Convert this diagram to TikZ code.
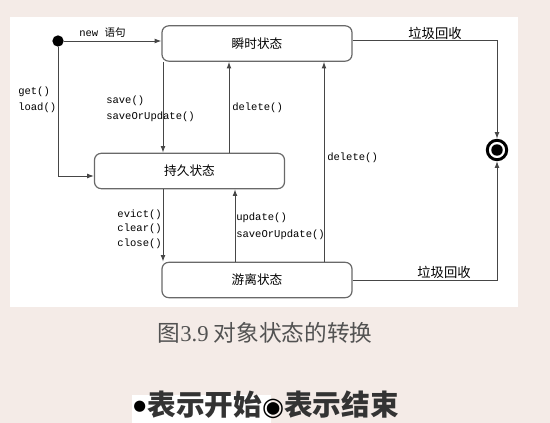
\documentclass[tikz,border=0pt]{standalone}
\usepackage{fontspec}
\usetikzlibrary{arrows.meta}
\setmonofont{Liberation Mono}
\newfontfamily\cjk{Noto Sans CJK SC}
\newfontfamily\serifnum{Liberation Serif}
\newfontfamily\symfont{DejaVu Sans}
\definecolor{bgpink}{RGB}{244,235,231}
\definecolor{linegray}{RGB}{70,70,70}
\definecolor{boxgray}{RGB}{105,105,105}

\begin{document}
\begin{tikzpicture}[x=0.75pt,y=-0.75pt,
  state/.style={draw=boxgray,line width=0.9pt,rounded corners=5pt,fill=white,
    minimum width=142.5pt,minimum height=26.5pt,inner sep=0pt,
    font=\cjk\fontsize{9.5}{11}\selectfont},
  arr/.style={draw=linegray,line width=0.7pt,-{Latex[length=5pt,width=3.6pt]}},
  code/.style={font=\ttfamily\fontsize{7.9}{12}\selectfont,inner sep=0pt},
  gc/.style={font=\cjk\fontsize{10}{12}\selectfont,inner sep=0pt}]
 % background and white panel
 \fill[bgpink] (0,0) rectangle (550,423);
 \fill[white] (10,17) rectangle (518,307);
 %
 \node[state] (transient) at (257,43.5) {瞬时状态};
 \node[state] (persistent) at (189.5,171) {持久状态};
 \node[state] (detached) at (257,280) {游离状态};
 \node[circle,fill=black,inner sep=0pt,minimum size=8.5pt] (start) at (58,41) {};
 \node[circle,draw=black,line width=2.2pt,fill=white,inner sep=0pt,minimum size=14.6pt] (end) at (497,150) {};
 \node[circle,fill=black,inner sep=0pt,minimum size=8.6pt] (endcore) at (end.center) {};
 %
 \coordinate (xa) at (163,0);
 \coordinate (xb) at (229,0);
 \coordinate (xc) at (235,0);
 \coordinate (xd) at (324,0);
 %
 \draw[arr] (start) -- (start -| transient.west);
 \draw[arr] (start) |- ([yshift=-3.75pt]persistent.west);
 \draw[arr] (transient.south -| xa) -- (persistent.north -| xa);
 \draw[arr] (persistent.north -| xb) -- (transient.south -| xb);
 \draw[arr] (persistent.south -| xa) -- (detached.north -| xa);
 \draw[arr] (detached.north -| xc) -- (persistent.south -| xc);
 \draw[arr] (detached.north -| xd) -- (transient.south -| xd);
 \draw[arr] ([yshift=2pt]transient.east) -| (end.north);
 \draw[arr] (detached.east) -| (end.south);
 %
 \node[code,anchor=west] (newlbl) at (79,33) {new {\cjk 语句}};
 \node[code,anchor=west,align=left] (getlbl) at (18,100) {get()\\load()};
 \node[code,anchor=west,align=left] (savelbl) at (106,109) {save()\\saveOrUpdate()};
 \node[code,anchor=west] (dellbl) at (232,108) {delete()};
 \node[code,anchor=west] (dellbltwo) at (327,158) {delete()};
 \node[code,anchor=east,align=right,font=\ttfamily\fontsize{7.9}{11}\selectfont] (evictlbl) at (162,229) {evict()\\clear()\\close()};
 \node[code,anchor=west,align=left,font=\ttfamily\fontsize{7.9}{12.75}\selectfont] (updlbl) at (236,226) {update()\\saveOrUpdate()};
 \node[gc] (gctop) at (435,33) {垃圾回收};
 \node[gc] (gcbottom) at (444,272) {垃圾回收};
 %
 \node[font=\cjk\fontsize{17}{20}\selectfont,text=black!68,inner sep=0pt] (caption) at (265,333) {图{\serifnum 3.9} 对象状态的转换};
 \fill[white] (132,395) rectangle (271,423);
 \node[font=\cjk\bfseries\fontsize{21.5}{24}\selectfont,text=black!80,inner sep=0pt,anchor=west] (legend) at (133,405)
   {{\symfont\color{black}\fontsize{11}{12}\selectfont\raisebox{4pt}{●}}\hspace{1pt}表示开始{\symfont\color{black}\fontsize{19}{20}\selectfont\raisebox{0.5pt}{◉}}表示结束};
\end{tikzpicture}
\end{document}
